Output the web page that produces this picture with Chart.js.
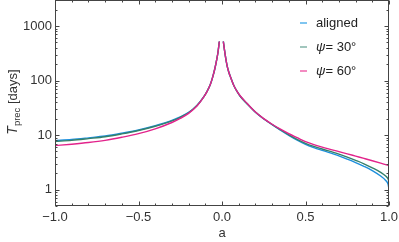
<!DOCTYPE html>
<html>
<head>
<meta charset="utf-8">
<script src="https://cdn.jsdelivr.net/npm/chart.js@4/dist/chart.umd.min.js"></script>
<style>
  html, body { margin: 0; padding: 0; background: #fff; }
  #chart { display: block; }
</style>
</head>
<body>
<canvas id="chart" width="399" height="242"></canvas>
<script>
'use strict';

// spin parameter a (null gap at the divergence)
var aPoints = [-1, -0.9, -0.8, -0.7, -0.6, -0.5, -0.4, -0.3, -0.25, -0.2, -0.15, -0.11, -0.09, -0.07, -0.055, -0.042, -0.032, -0.024, -0.016,
  0,
  0.008, 0.015, 0.022, 0.03, 0.04, 0.05, 0.07, 0.09, 0.11, 0.15, 0.2, 0.25, 0.3, 0.35, 0.4, 0.45, 0.5, 0.55, 0.6, 0.7, 0.75, 0.8, 0.85, 0.9, 0.95, 0.98, 0.995, 1];

var alignedDays = [7.9, 8.3, 8.9, 9.6, 10.8, 12.4, 14.8, 18.5, 21.5, 26, 35, 50, 63, 85, 118, 170, 240, 330, 520,
  null,
  520, 360, 260, 190, 145, 118, 82, 63, 51, 37.5, 26.2, 19.7, 15.5, 12.3, 9.88, 8.07, 6.76, 5.89, 5.23, 4.15, 3.62, 3.13, 2.67, 2.23, 1.77, 1.47, 1.24, 1.0];

var psi30Days = [7.6, 8.0, 8.6, 9.3, 10.5, 12.1, 14.5, 18.2, 21.2, 25.7, 34.7, 49.7, 62.7, 84.7, 118, 170, 240, 330, 520,
  null,
  520, 360, 260, 190, 145, 118, 82, 63, 51, 37.6, 26.4, 19.9, 15.6, 12.5, 10.1, 8.35, 7.05, 6.19, 5.55, 4.46, 3.93, 3.43, 2.97, 2.51, 2.07, 1.77, 1.56, 1.36];

var psi60Days = [6.4, 6.8, 7.3, 8.0, 9.1, 10.6, 13.0, 17.0, 20.2, 25, 34, 49.5, 62.5, 84.5, 118, 170, 240, 330, 520,
  null,
  520, 360, 260, 190, 145, 118, 82, 63.5, 52, 38.2, 26.4, 20, 15.8, 12.8, 10.6, 8.96, 7.57, 6.67, 6.01, 4.97, 4.53, 4.11, 3.73, 3.38, 3.05, 2.86, 2.77, 2.70];

var seriesNames = ['aligned', '30°', '60°'];
var seriesColors = ['#1d8fdc', '#35806a', '#e2238b'];
var legendColors = ['#3aa6e8', '#6fa89a', '#ec4c9f'];

var xTicks = [-1, -0.5, 0, 0.5, 1];
var yTicks = [1, 10, 100, 1000];

var FONT = '"Liberation Sans", Arial, sans-serif';
var TEXT = '#333';
var FRAME = '#444';

function toPoints(values) {
  return aPoints.map(function(a, i) { return { x: a, y: values[i] }; });
}

// NOTE: higher order is drawn first, so psi = 60 ends up on top like the original.
function makeSet(label, values, i) {
  return {
    label: label,
    data: toPoints(values),
    borderColor: seriesColors[i],
    borderWidth: 1.4,
    pointRadius: 0,
    fill: false,
    spanGaps: false,
    order: 2 - i,
    cubicInterpolationMode: 'monotone'
  };
}

function noPad(scale) {
  scale.paddingTop = 0;
  scale.paddingBottom = 0;
  scale.paddingLeft = 0;
  scale.paddingRight = 0;
}

var decorPlugin = {
  id: 'decor',
  afterDraw: function(chart) {
    var ctx = chart.ctx;
    var area = chart.chartArea;
    var xs = chart.scales.x;
    var ys = chart.scales.y;
    var L = area.left + 0.5, R = area.right - 0.5, T = area.top + 0.5, B = area.bottom - 0.5;

    ctx.save();
    ctx.strokeStyle = FRAME;
    ctx.lineWidth = 1;
    ctx.strokeRect(L, T, R - L, B - T);

    // inward ticks, x
    ctx.beginPath();
    for (var k = -10; k <= 10; k++) {
      var v = k / 10;
      var px = Math.round(xs.getPixelForValue(v)) + 0.5;
      var len = (k % 5 === 0) ? 4 : 2;
      ctx.moveTo(px, B); ctx.lineTo(px, B - len);
      ctx.moveTo(px, T); ctx.lineTo(px, T + len);
    }
    // inward ticks, y (log)
    for (var e = -1; e <= 3; e++) {
      for (var m = 1; m <= 9; m++) {
        var val = m * Math.pow(10, e);
        if (val < ys.min || val > ys.max) continue;
        var py = Math.round(ys.getPixelForValue(val)) + 0.5;
        var l2 = (m === 1) ? 4 : 2;
        ctx.moveTo(L, py); ctx.lineTo(L + l2, py);
        ctx.moveTo(R, py); ctx.lineTo(R - l2, py);
      }
    }
    ctx.stroke();

    // legend
    var ly = [23, 47, 71];
    ctx.textBaseline = 'middle';
    ctx.fillStyle = '#222';
    for (var i = 0; i < 3; i++) {
      ctx.strokeStyle = legendColors[i];
      ctx.lineWidth = 1.3;
      ctx.beginPath();
      ctx.moveTo(300, ly[i]); ctx.lineTo(307, ly[i]);
      ctx.stroke();
      var tx = 316;
      if (i > 0) {
        ctx.font = 'italic 13px ' + FONT;
        ctx.fillText('ψ', tx, ly[i]);
        tx += ctx.measureText('ψ').width;
        ctx.font = '13px ' + FONT;
        ctx.fillText('= ' + seriesNames[i], tx, ly[i]);
      } else {
        ctx.font = '13px ' + FONT;
        ctx.fillText(seriesNames[i], tx, ly[i]);
      }
    }

    // x title
    ctx.fillStyle = TEXT;
    ctx.font = '13px ' + FONT;
    ctx.textAlign = 'center';
    ctx.textBaseline = 'middle';
    ctx.fillText('a', (area.left + area.right) / 2, 233);

    // y title: T_prec [days]
    ctx.translate(17, 102);
    ctx.rotate(-Math.PI / 2);
    ctx.textAlign = 'left';
    ctx.textBaseline = 'alphabetic';
    ctx.font = 'italic 14px ' + FONT;
    var wT = ctx.measureText('T').width;
    ctx.font = '9.5px ' + FONT;
    var wSub = ctx.measureText('prec').width;
    ctx.font = '13px ' + FONT;
    var wRest = ctx.measureText(' [days]').width;
    var x0 = -(wT + wSub + wRest) / 2;
    ctx.font = 'italic 14px ' + FONT;
    ctx.fillText('T', x0, 0);
    ctx.font = '9.5px ' + FONT;
    ctx.fillText('prec', x0 + wT, 3);
    ctx.font = '13px ' + FONT;
    ctx.fillText(' [days]', x0 + wT + wSub, 0);
    ctx.restore();
  }
};

var chart = new Chart(document.getElementById('chart').getContext('2d'), {
  type: 'line',
  data: {
    datasets: [
      makeSet(seriesNames[0], alignedDays, 0),
      makeSet(seriesNames[1], psi30Days, 1),
      makeSet(seriesNames[2], psi60Days, 2)
    ]
  },
  options: {
    responsive: false,
    animation: false,
    layout: { padding: { top: 0, right: 10, left: 0, bottom: 0 } },
    plugins: { legend: { display: false }, tooltip: { enabled: false } },
    scales: {
      x: {
        type: 'linear',
        min: -1,
        max: 1,
        grid: { display: false, drawTicks: false },
        border: { display: false },
        afterBuildTicks: function(scale) {
          scale.ticks = xTicks.map(function(v) { return { value: v }; });
        },
        afterFit: function(scale) { scale.height = 36; noPad(scale); },
        ticks: {
          padding: 4,
          maxRotation: 0,
          color: TEXT,
          font: { family: FONT, size: 13 },
          callback: function(v) { return (v < 0 ? '\u2212' : '') + Math.abs(v).toFixed(1); }
        }
      },
      y: {
        type: 'logarithmic',
        min: 0.5,
        max: 3000,
        grid: { display: false, drawTicks: false },
        border: { display: false },
        afterBuildTicks: function(scale) {
          scale.ticks = yTicks.map(function(v) { return { value: v }; });
        },
        afterFit: function(scale) { scale.width = 55; noPad(scale); },
        ticks: {
          padding: 3,
          color: TEXT,
          font: { family: FONT, size: 13 },
          callback: function(v) { return String(v); }
        }
      }
    }
  },
  plugins: [decorPlugin]
});
</script>
</body>
</html>
